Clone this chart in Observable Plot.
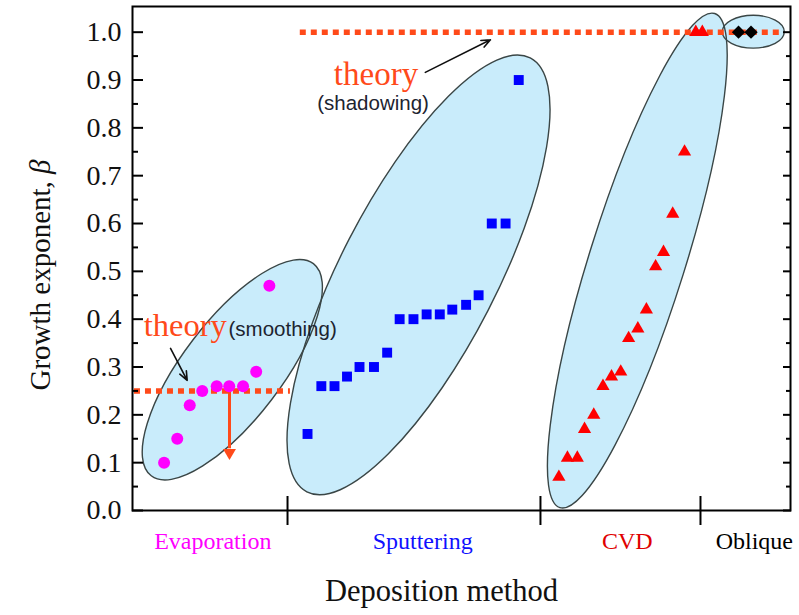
<!DOCTYPE html>
<html>
<head>
<meta charset="utf-8">
<script src="https://cdn.jsdelivr.net/npm/d3@7"></script>
<script src="https://cdn.jsdelivr.net/npm/@observablehq/plot@0.6"></script>
<style>
  html, body { margin: 0; padding: 0; background: #fff; }
  #chart { width: 799px; height: 615px; }
</style>
</head>
<body>
<div id="chart"></div>
<script>
// ---- data (x: position along the deposition-method axis, 0–100) ----
const evapX = [4.8, 6.8, 8.7, 10.6, 12.8, 14.7, 16.8, 18.8, 20.8];
const evapY = [0.10, 0.15, 0.22, 0.25, 0.26, 0.26, 0.26, 0.29, 0.47];
const sputX = [26.6, 28.7, 30.7, 32.6, 34.5, 36.7, 38.7, 40.6, 42.7, 44.7, 46.7, 48.6, 50.7, 52.6, 54.6, 56.7, 58.7];
const sputY = [0.16, 0.26, 0.26, 0.28, 0.30, 0.30, 0.33, 0.40, 0.40, 0.41, 0.41, 0.42, 0.43, 0.45, 0.60, 0.60, 0.90];
const cvdX = [64.8, 66.1, 67.6, 68.7, 70.1, 71.5, 72.8, 74.2, 75.4, 76.8, 78.1, 79.5, 80.7, 82.1, 83.9, 85.6, 86.6];
const cvdY = [0.07, 0.11, 0.11, 0.17, 0.20, 0.26, 0.28, 0.29, 0.36, 0.38, 0.42, 0.51, 0.54, 0.62, 0.75, 1.0, 1.0];
const oblX = [92.1, 94.0];
const oblY = [1.0, 1.0];

const methods = ["Evaporation", "Sputtering", "CVD", "Oblique"];
const methodLabelX = [12.2, 44.1, 75.2, 94.5];
const methodColors = ["#ff00ff", "#1010ff", "#e00000", "#000000"];
const separators = [23.56, 62.0, 86.32];

const yTicks = [0, 0.1, 0.2, 0.3, 0.4, 0.5, 0.6, 0.7, 0.8, 0.9, 1.0];
const yMinor = [0.05, 0.15, 0.25, 0.35, 0.45, 0.55, 0.65, 0.75, 0.85, 0.95];

// theory lines (beta = 0.25 smoothing, beta = 1 shadowing)
const theoryLines = [
  {y: 0.25, x1: 0.3, x2: 24.0},
  {y: 1.0, x1: 25.5, x2: 99.0}
];

// grouping ellipses: major-axis end points (data units) and minor/major ratio
const ellipses = [
  {x1: 2.92, y1: 0.0715, x2: 27.57, y2: 0.515, ratio: 0.37},
  {x1: 26.57, y1: 0.038, x2: 60.52, y2: 0.945, ratio: 0.32},
  {x1: 65.03, y1: 0.005, x2: 88.56, y2: 1.038, ratio: 0.185},
  {x1: 89.71, y1: 1.0, x2: 99.13, y2: 1.0, ratio: 0.53}
];

const toRows = (xs, ys) => xs.map((x, i) => ({x, y: ys[i]}));
const evap = toRows(evapX, evapY);
const sput = toRows(sputX, sputY);
const cvd = toRows(cvdX, cvdY);
const obl = toRows(oblX, oblY);
const labels = methods.map((m, i) => ({text: m, x: methodLabelX[i], color: methodColors[i]}));

const SERIF = "Liberation Serif, Times New Roman, serif";
const SANS = "Liberation Sans, Arial, sans-serif";
const ORANGE = "#ff4a1a";

function ellipseLayer(mode) {
  return (index, scales) => {
    const g = d3.create("svg:g");
    for (const e of ellipses) {
      const ax = scales.x(e.x1), ay = scales.y(e.y1);
      const bx = scales.x(e.x2), by = scales.y(e.y2);
      const cx = (ax + bx) / 2, cy = (ay + by) / 2;
      const rx = Math.hypot(bx - ax, by - ay) / 2;
      const ang = Math.atan2(by - ay, bx - ax) * 180 / Math.PI;
      g.append("ellipse")
        .attr("cx", cx).attr("cy", cy)
        .attr("rx", rx).attr("ry", rx * e.ratio)
        .attr("transform", `rotate(${ang},${cx},${cy})`)
        .attr("fill", mode === "fill" ? "#c9ecfb" : "none")
        .attr("stroke", mode === "fill" ? "none" : "#3a4646")
        .attr("stroke-width", 1.4);
    }
    return g.node();
  };
}

const svg = Plot.plot({
  width: 799,
  height: 615,
  marginLeft: 132,
  marginRight: 9,
  marginTop: 6,
  marginBottom: 105,
  x: {domain: [0, 100]},
  y: {domain: [0, 1.0537]},
  style: {background: "#fff", overflow: "visible"},
  marks: [
    ellipseLayer("fill"),
    ellipseLayer("stroke"),
    Plot.ruleY(theoryLines, {y: "y", x1: "x1", x2: "x2", stroke: ORANGE, strokeWidth: 5.5, strokeDasharray: "6,5"}),
    // orange arrow (smoothing theory → lower)
    Plot.link([{x: 14.74, y1: 0.26, y2: 0.13}], {x1: "x", x2: "x", y1: "y1", y2: "y2", stroke: ORANGE, strokeWidth: 3}),
    Plot.dot([{x: 14.74, y: 0.121}], {x: "x", y: "y", symbol: "triangle", rotate: 180, r: 4.8, fill: ORANGE, stroke: "none"}),
    // pointer arrows
    Plot.arrow([{x1: 5.78, y1: 0.339, x2: 8.31, y2: 0.272}, {x1: 44.5, y1: 0.916, x2: 54.4, y2: 0.984}],
      {x1: "x1", y1: "y1", x2: "x2", y2: "y2", stroke: "#111", strokeWidth: 1.6, headLength: 9, headAngle: 45}),
    // data
    Plot.dot(evap, {x: "x", y: "y", symbol: "circle", r: 6, fill: "#ff00ff", stroke: "none"}),
    Plot.dot(sput, {x: "x", y: "y", symbol: "square", r: 5.6, fill: "#0000ff", stroke: "none"}),
    Plot.dot(cvd, {x: "x", y: "y", symbol: "triangle", r: 4.9, fill: "#ff0000", stroke: "none"}),
    Plot.dot(obl, {x: "x", y: "y", symbol: "diamond2", r: 6, fill: "#000", stroke: "none"}),
    // annotations
    Plot.text([{x: 1.7, y: 0.364}], {x: "x", y: "y", text: () => "theory", fill: ORANGE, fontSize: 32.5, fontFamily: SERIF, textAnchor: "start", lineAnchor: "bottom"}),
    Plot.text([{x: 14.59, y: 0.364}], {x: "x", y: "y", text: () => "(smoothing)", fill: "#1d2430", fontSize: 20.5, fontFamily: SANS, textAnchor: "start", lineAnchor: "bottom"}),
    Plot.text([{x: 30.6, y: 0.8886}], {x: "x", y: "y", text: () => "theory", fill: ORANGE, fontSize: 33, fontFamily: SERIF, textAnchor: "start", lineAnchor: "bottom"}),
    Plot.text([{x: 28.07, y: 0.8363}], {x: "x", y: "y", text: () => "(shadowing)", fill: "#1d2430", fontSize: 20.5, fontFamily: SANS, textAnchor: "start", lineAnchor: "bottom", letterSpacing: 0.6}),
    // frame and axes
    Plot.frame({stroke: "#000", strokeWidth: 2}),
    Plot.axisY({ticks: yTicks, tickSize: 0, tickPadding: 11, tickFormat: ".1f", fontSize: 28, fontFamily: SERIF, label: null, fill: "#111"}),
    Plot.axisY({ticks: yTicks, tickSize: -11, text: null, strokeWidth: 2, label: null}),
    Plot.axisY({ticks: yMinor, tickSize: -6, text: null, strokeWidth: 2, label: null}),
    Plot.axisY({anchor: "right", ticks: yTicks, tickSize: -8, text: null, strokeWidth: 2, label: null}),
    Plot.axisY({anchor: "right", ticks: yMinor, tickSize: -5, text: null, strokeWidth: 2, label: null}),
    Plot.axisX({ticks: separators, tickSize: 15, text: null, strokeWidth: 2, label: null}),
    Plot.axisX({ticks: separators, tickSize: -14, text: null, strokeWidth: 2, label: null}),
    Plot.text(labels, {x: "x", text: "text", fill: "color", frameAnchor: "bottom", dy: 38, fontSize: 24, fontFamily: SERIF, lineAnchor: "bottom"}),
    Plot.text([{x: 46.96}], {x: "x", text: () => "Deposition method", frameAnchor: "bottom", dy: 90, fontSize: 30.5, fontFamily: SERIF, fill: "#111", lineAnchor: "bottom"})
  ]
});

const yl = d3.select(svg).append("text")
  .attr("transform", "translate(50,275) rotate(-90)")
  .attr("text-anchor", "middle")
  .attr("font-family", SERIF)
  .attr("font-size", 29)
  .attr("fill", "#111");
yl.append("tspan").text("Growth exponent, ");
yl.append("tspan").attr("font-style", "italic").text("β");

document.getElementById("chart").appendChild(svg);
</script>
</body>
</html>
